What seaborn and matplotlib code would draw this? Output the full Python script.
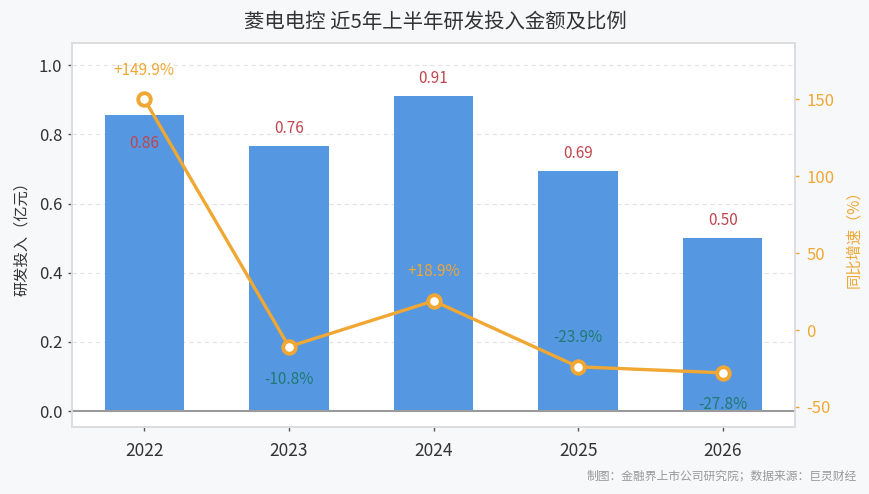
import matplotlib
matplotlib.use("Agg")
import matplotlib.pyplot as plt
import seaborn as sns
import pandas as pd

years = ["2022", "2023", "2024", "2025", "2026"]
rd_amount = [0.855, 0.765, 0.91, 0.693, 0.50]
yoy_growth = [149.9, -10.8, 18.9, -23.9, -27.8]
amount_labels = ["0.86", "0.76", "0.91", "0.69", "0.50"]
growth_labels = ["+149.9%", "-10.8%", "+18.9%", "-23.9%", "-27.8%"]

title = "菱电电控 近5年上半年研发投入金额及比例"
left_label = "研发投入（亿元）"
right_label = "同比增速（%）"
footer = "制图：金融界上市公司研究院；数据来源：巨灵财经"

sns.set_theme(style="white")
plt.rcParams['font.family'] = ['Noto Sans CJK SC', 'DejaVu Sans']
plt.rcParams['axes.unicode_minus'] = False

BAR = "#5597e0"
LINE = "#f0a733"
RED = "#c0454d"
TEAL = "#1f7a72"
BG = "#f7f8fa"
GRID = "#e3e3e3"

df = pd.DataFrame({"year": years, "amount": rd_amount, "growth": yoy_growth})

fig = plt.figure(figsize=(8.7, 4.94), dpi=100, facecolor=BG)
ax = fig.add_axes([0.0828, 0.1356, 0.8310, 0.7774])
ax.set_facecolor("white")

sns.barplot(data=df, x="year", y="amount", color=BAR, width=0.55,
            saturation=1, ax=ax, zorder=2, linewidth=0, edgecolor=BAR)
ax.set_xlim(-0.5, 4.5)
ax.set_ylim(-0.046, 1.064)
ax.set_yticks([0.0, 0.2, 0.4, 0.6, 0.8, 1.0])
ax.set_yticklabels(["0.0", "0.2", "0.4", "0.6", "0.8", "1.0"])
for y in [0.2, 0.4, 0.6, 0.8, 1.0]:
    ax.axhline(y, color=GRID, linestyle=(0, (4, 3)), linewidth=0.8, zorder=0)
ax.axhline(0, color="#9a9a9a", linewidth=1.5, zorder=3)
ax.set_xlabel("")
ax.set_ylabel(left_label, fontsize=11, color="#333333", labelpad=6)
ax.tick_params(axis="y", colors="#555555", labelcolor="#333333", labelsize=12,
               length=3, width=1, pad=4, left=True)
ax.tick_params(axis="x", colors="#555555", labelcolor="#333333", labelsize=12.5,
               length=3, width=1, pad=8, bottom=True)
for s in ax.spines.values():
    s.set_color("#dddddd")
    s.set_linewidth(1.2)

bar_offsets = [-20, 13, 13, 13, 13]
for i, (v, lab) in enumerate(zip(rd_amount, amount_labels)):
    ax.annotate(lab, (i, v), xytext=(0, bar_offsets[i]), textcoords="offset points",
                ha="center", va="center", fontsize=11, color=RED, zorder=6)

ax2 = ax.twinx()
sns.pointplot(data=df, x="year", y="growth", color=LINE, ax=ax2,
              markers="o", linestyles="-",
              markersize=9, markerfacecolor="white", markeredgecolor=LINE,
              markeredgewidth=2.8, linewidth=2.4)
ax2.set_xlim(-0.5, 4.5)
ax2.set_ylim(-63, 186.4)
ax2.set_yticks([-50, 0, 50, 100, 150])
ax2.set_yticklabels(["-50", "0", "50", "100", "150"])
ax2.set_ylabel(right_label, fontsize=11, color=LINE, rotation=90, labelpad=8)
ax2.tick_params(axis="y", colors=LINE, labelcolor=LINE, labelsize=12,
                length=3, width=1, pad=5, right=True)
ax2.grid(False)
for s in ax2.spines.values():
    s.set_color("#dddddd")
    s.set_linewidth(1.2)

pct_offsets = [21, -24, 21, 21, -23]
for i, (v, lab) in enumerate(zip(yoy_growth, growth_labels)):
    c = LINE if v >= 0 else TEAL
    ax2.annotate(lab, (i, v), xytext=(0, pct_offsets[i]), textcoords="offset points",
                 ha="center", va="center", fontsize=11, color=c, zorder=6)

fig.text(0.5, 0.955, title, ha="center", va="center", fontsize=14.7, color="#333333")
fig.text(0.985, 0.037, footer, ha="right", va="center", fontsize=8.5, color="#999999")

fig.savefig("out.png", dpi=100, facecolor=BG)
